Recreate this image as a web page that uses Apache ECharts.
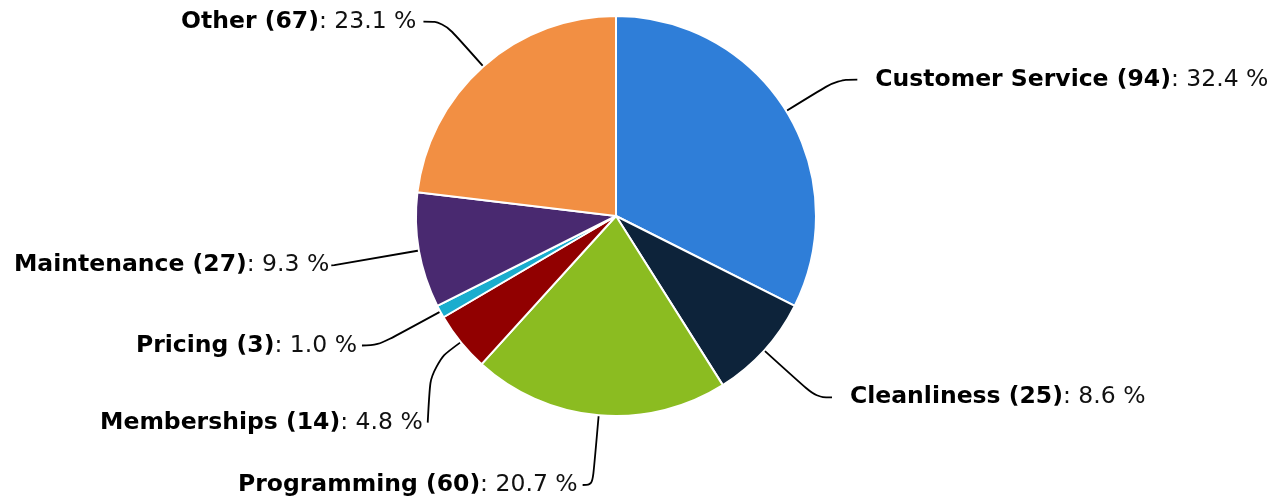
<!DOCTYPE html>
<html>
<head>
<meta charset="utf-8">
<script src="https://cdn.jsdelivr.net/npm/echarts@6/dist/echarts.min.js"></script>
<style>
  html, body { margin: 0; padding: 0; background: #fff; }
  #chart { width: 1282px; height: 500px; }
</style>
</head>
<body>
<div id="chart"></div>
<script>
// Feedback categories, clockwise from 12 o'clock
const categories = ['Customer Service', 'Cleanliness', 'Programming', 'Memberships', 'Pricing', 'Maintenance', 'Other'];
const counts = [94, 25, 60, 14, 3, 27, 67];
const sliceColors = ['#2f7ed8', '#0d233a', '#8bbc21', '#910000', '#1aadce', '#492970', '#f28f43'];

const total = counts.reduce((a, b) => a + b, 0);
const font = 'DejaVu Sans';
const fontSize = 23.5;

// Connector shapes per slice: radial leg, horizontal leg, gap before the text
const connectorStyle = {
  'Customer Service': { length: 60, length2: 20, gap: 18 },
  'Cleanliness':      { length: 70, length2: 16, gap: 18 },
  'Programming':      { length: 70, length2: 10, gap: 5 },
  'Memberships':      { length: 80, length2: 6,  gap: 5 },
  'Pricing':          { length: 71, length2: 16, gap: 5 },
  'Maintenance':      { length: 86, length2: 3,  gap: 2 },
  'Other':            { length: 60, length2: 20, gap: 7 }
};

// The small Memberships label is pushed down-right, clear of its neighbours,
// with its connector dropping almost straight down from the slice
const labelShift = {
  'Memberships': { dx: 35, dy: 30 }
};

const chart = echarts.init(document.getElementById('chart'), null, { renderer: 'canvas' });
chart.setOption({
  animation: false,
  backgroundColor: '#ffffff',
  series: [{
    type: 'pie',
    center: [616, 216],
    radius: 200,
    startAngle: 90,
    clockwise: true,
    avoidLabelOverlap: true,
    data: categories.map((name, i) => {
      const c = connectorStyle[name];
      return {
        name,
        value: counts[i],
        itemStyle: { color: sliceColors[i] },
        label: { distanceToLabelLine: c.gap },
        labelLine: { length: c.length, length2: c.length2 }
      };
    }),
    itemStyle: { borderColor: '#ffffff', borderWidth: 2 },
    label: {
      show: true,
      fontFamily: font,
      fontSize: fontSize,
      color: '#000',
      formatter: p => '{b|' + p.name + ' (' + p.value + ')}{n|: ' + (p.value / total * 100).toFixed(1) + ' %}',
      rich: {
        b: { fontFamily: font, fontSize: fontSize, fontWeight: 'bold', color: '#000' },
        n: { fontFamily: font, fontSize: fontSize, color: '#111' }
      }
    },
    labelLine: {
      show: true,
      smooth: 0.4,
      lineStyle: { color: '#000', width: 1.8 }
    },
    labelLayout: function (params) {
      const shift = labelShift[categories[params.dataIndex]];
      if (!shift) return {};
      const out = { dx: shift.dx, dy: shift.dy };
      const pts = params.labelLinePoints;
      if (pts && pts.length) {
        const r = params.labelRect;
        const gap = connectorStyle[categories[params.dataIndex]].gap;
        const endX = r.x + r.width + shift.dx + gap;
        const endY = r.y + r.height / 2 + shift.dy;
        const start = pts[0];
        out.labelLinePoints = [
          [start[0], start[1]],
          [endX + 3, start[1] + 22],
          [endX, endY]
        ];
      }
      return out;
    }
  }]
});
</script>
</body>
</html>
